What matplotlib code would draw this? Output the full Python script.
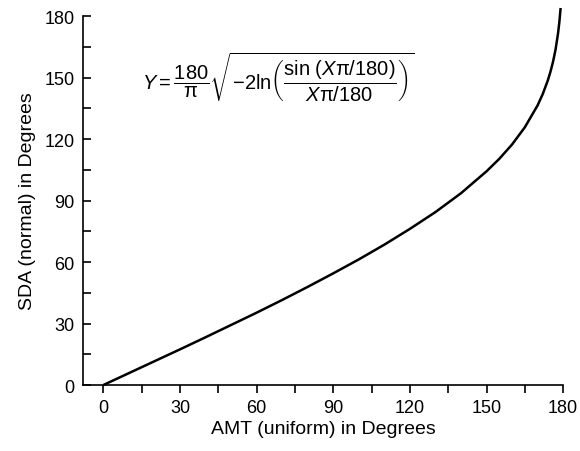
import matplotlib
matplotlib.use('Agg')
import matplotlib.pyplot as plt
from matplotlib.ticker import MultipleLocator

# values
amt = [0, 10, 20, 30, 40, 50, 60, 70, 80, 90, 100, 110, 120, 130, 140, 150,
       155, 160, 165, 170, 172, 174, 175, 176, 177, 178, 178.5, 179]
sda = [0, 5.8, 11.6, 17.4, 23.3, 29.3, 35.3, 41.5, 47.9, 54.5, 61.3, 68.5,
       76.2, 84.4, 93.6, 104.3, 110.4, 117.4, 125.8, 136.5, 142.0, 148.7,
       152.8, 157.6, 163.6, 171.7, 177.1, 184.0]
xticks = [0, 30, 60, 90, 120, 150, 180]
yticks = [0, 30, 60, 90, 120, 150, 180]

plt.rcParams['font.family'] = ['Liberation Sans', 'DejaVu Sans']
plt.rcParams['mathtext.fontset'] = 'custom'
plt.rcParams['mathtext.rm'] = 'Liberation Sans'
plt.rcParams['mathtext.it'] = 'Liberation Sans:italic'

fig = plt.figure(figsize=(5.8, 4.52), dpi=100)
ax = fig.add_axes([0.143, 0.146, 0.828, 0.816])

ax.plot(amt, sda, color='black', lw=1.8, clip_on=False, solid_capstyle='butt')

ax.set_xlim(-8, 180)
ax.set_ylim(0, 180)
ax.set_xticks(xticks)
ax.set_yticks(yticks)
ax.xaxis.set_minor_locator(MultipleLocator(15))
ax.yaxis.set_minor_locator(MultipleLocator(15))
ax.tick_params(axis='x', which='both', direction='out', length=6, width=1.2,
               labelsize=13, pad=4)
ax.tick_params(axis='y', which='both', direction='in', length=6, width=1.2,
               labelsize=13, pad=6)
for s in ['top', 'right']:
    ax.spines[s].set_visible(False)
for s in ['left', 'bottom']:
    ax.spines[s].set_linewidth(1.2)

ax.set_xlabel('AMT (uniform) in Degrees', fontsize=14, labelpad=3)
ax.set_ylabel('SDA (normal) in Degrees', fontsize=14, labelpad=6)

# formula annotation
ax.text(15, 150.5,
        r'$Y=\dfrac{180}{\mathrm{\pi}}\sqrt{-2\mathrm{ln}\left(\dfrac{\mathrm{sin}\ (X\mathrm{\pi}/180)}{X\mathrm{\pi}/180}\right)}$',
        fontsize=14.5, ha='left', va='center')

fig.savefig('out.png', dpi=100)
